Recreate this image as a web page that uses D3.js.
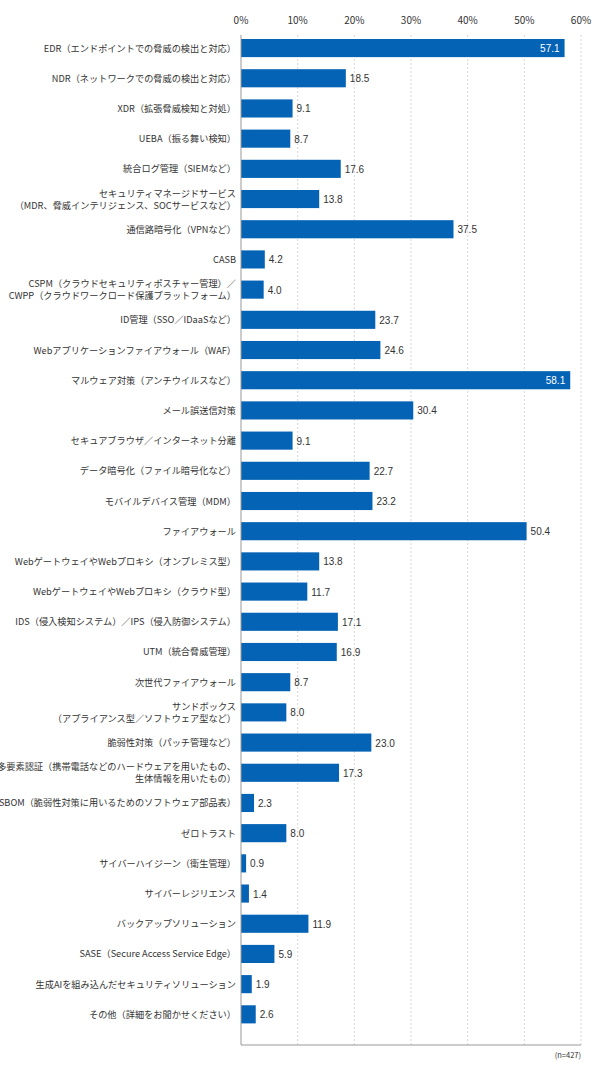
<!DOCTYPE html>
<html>
<head>
<meta charset="utf-8">
<script src="https://cdnjs.cloudflare.com/ajax/libs/d3/7.8.5/d3.min.js"></script>
<style>
  body { margin: 0; background: #fff; font-family: "Noto Sans CJK JP", sans-serif; }
</style>
</head>
<body>
<div id="chart"></div>
<script>
// categories (use \n for two-line labels)
const categories = [
  "EDR（エンドポイントでの脅威の検出と対応）",
  "NDR（ネットワークでの脅威の検出と対応）",
  "XDR（拡張脅威検知と対処）",
  "UEBA（振る舞い検知）",
  "統合ログ管理（SIEMなど）",
  "セキュリティマネージドサービス\n（MDR、脅威インテリジェンス、SOCサービスなど）",
  "通信路暗号化（VPNなど）",
  "CASB",
  "CSPM（クラウドセキュリティポスチャー管理）／\nCWPP（クラウドワークロード保護プラットフォーム）",
  "ID管理（SSO／IDaaSなど）",
  "Webアプリケーションファイアウォール（WAF）",
  "マルウェア対策（アンチウイルスなど）",
  "メール誤送信対策",
  "セキュアブラウザ／インターネット分離",
  "データ暗号化（ファイル暗号化など）",
  "モバイルデバイス管理（MDM）",
  "ファイアウォール",
  "WebゲートウェイやWebプロキシ（オンプレミス型）",
  "WebゲートウェイやWebプロキシ（クラウド型）",
  "IDS（侵入検知システム）／IPS（侵入防御システム）",
  "UTM（統合脅威管理）",
  "次世代ファイアウォール",
  "サンドボックス\n（アプライアンス型／ソフトウェア型など）",
  "脆弱性対策（パッチ管理など）",
  "多要素認証（携帯電話などのハードウェアを用いたもの、\n生体情報を用いたもの）",
  "SBOM（脆弱性対策に用いるためのソフトウェア部品表）",
  "ゼロトラスト",
  "サイバーハイジーン（衛生管理）",
  "サイバーレジリエンス",
  "バックアップソリューション",
  "SASE（Secure Access Service Edge）",
  "生成AIを組み込んだセキュリティソリューション",
  "その他（詳細をお聞かせください）"
];
const values = [57.1, 18.5, 9.1, 8.7, 17.6, 13.8, 37.5, 4.2, 4.0, 23.7, 24.6, 58.1, 30.4, 9.1,
  22.7, 23.2, 50.4, 13.8, 11.7, 17.1, 16.9, 8.7, 8.0, 23.0, 17.3, 2.3, 8.0, 0.9, 1.4, 11.9, 5.9, 1.9, 2.6];
const xTicks = [0, 10, 20, 30, 40, 50, 60];
const note = "(n=427)";

const W = 600, H = 1071;
const plotL = 241, plotR = 581, plotT = 35, plotB = 1045;

const svg = d3.select("#chart").append("svg").attr("width", W).attr("height", H);

const x = d3.scaleLinear().domain([0, 60]).range([plotL, plotR]);
const y = d3.scaleBand().domain(d3.range(categories.length)).range([39, 1023.4]).paddingInner(0.4).paddingOuter(0);

// gridlines
svg.append("g").selectAll("line").data(xTicks.slice(1)).join("line")
  .attr("x1", d => x(d)).attr("x2", d => x(d)).attr("y1", plotT).attr("y2", plotB)
  .attr("stroke", "#ccc").attr("stroke-width", 0.8).attr("stroke-dasharray", "2,2");

// tick labels
svg.append("g").selectAll("text").data(xTicks).join("text")
  .attr("x", d => x(d)).attr("y", 24).attr("text-anchor", "middle")
  .attr("font-size", 10).attr("fill", "#333").text(d => d + "%");

// bars
svg.append("g").selectAll("rect").data(values).join("rect")
  .attr("x", x(0)).attr("y", (d, i) => y(i)).attr("width", d => x(d) - x(0))
  .attr("height", y.bandwidth()).attr("fill", "#0563b5");

// value labels
svg.append("g").selectAll("text").data(values).join("text")
  .attr("x", d => d > 55 ? x(d) - 5 : x(d) + 4)
  .attr("y", (d, i) => y(i) + y.bandwidth() / 2 + 4)
  .attr("text-anchor", d => d > 55 ? "end" : "start")
  .attr("font-size", 10).attr("font-family", "Arial, Liberation Sans, sans-serif")
  .attr("fill", d => d > 55 ? "#fff" : "#333")
  .text(d => d.toFixed(1));

// axis lines
svg.append("line").attr("x1", plotL).attr("x2", plotL).attr("y1", plotT).attr("y2", plotB).attr("stroke", "#999");
svg.append("line").attr("x1", plotL).attr("x2", plotR).attr("y1", plotB).attr("y2", plotB).attr("stroke", "#999");

// category labels
const lab = svg.append("g").selectAll("text").data(categories).join("text")
  .attr("x", plotL - 5).attr("text-anchor", "end").attr("font-size", 9.2).attr("fill", "#333");
lab.each(function(d, i) {
  const lines = d.split("\n");
  const cy = y(i) + y.bandwidth() / 2;
  const t = d3.select(this);
  lines.forEach((s, k) => {
    t.append("tspan").attr("x", plotL - 5)
      .attr("y", cy + 3.5 + (k - (lines.length - 1) / 2) * 12).text(s);
  });
});

svg.append("text").attr("x", plotR).attr("y", 1058).attr("text-anchor", "end")
  .attr("font-size", 7.5).attr("fill", "#333").text(note);
</script>
</body>
</html>
